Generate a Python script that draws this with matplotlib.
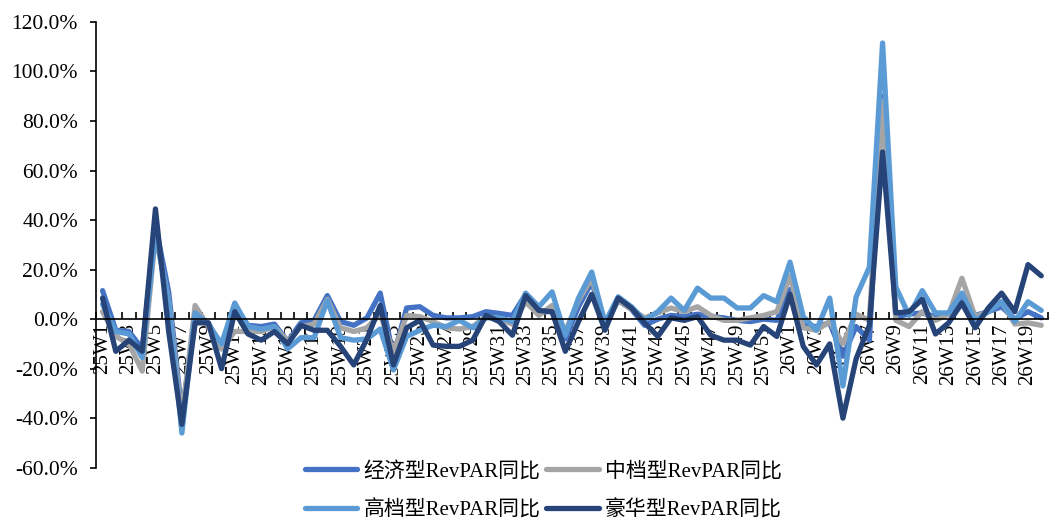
import matplotlib
matplotlib.use('Agg')
import matplotlib.pyplot as plt
from matplotlib.ticker import FixedLocator, NullFormatter

plt.rcParams['font.family'] = ['Liberation Serif', 'Noto Sans CJK SC', 'DejaVu Sans']

weeks = ['25W%d' % i for i in range(1, 53)] + ['26W%d' % i for i in range(1, 21)]

jingji = [11.5, -4.5, -5, -12, 38, 11, -38, -1, -1.5, -12,
          5, -2.5, -3, -2, -9, -1.5, -0.5, 9.5, -1, -2.5,
          0.5, 10.5, -15, 4.5, 5, 1.5, 0.5, 0.5, 1, 3,
          2.3, 1.5, 10, 3, 3, -8, 5, 15, -2, 7.5,
          4, -2.5, 0, 1.5, 1, 2, 1, 0.5, -0.5, -1,
          0, -0.5, 12, -2.5, -3, -1.5, -15, -3, -8.5, 90,
          1, 2, 2.5, 1, 2, 8, 1.5, 3, 5, 0,
          3, 0.5]
zhongdang = [3, -7, -10, -21, 34, 7.5, -40, 5.5, -3, -12,
             -5, -5, -5, -3, -9, -3, -2, 8, -3.5, -5,
             -3.5, 2, -13.5, 1.5, 1, -1, -3.5, -4, -3, 1,
             0, -2, 7, 1.5, 5.5, -5, 7.5, 16.5, -2, 7.5,
             4, 0.5, 2.5, 4.5, 3, 5, 1.5, -0.5, -0.5, 0.5,
             1.5, 3, 17.5, -3.5, -4.5, -1, -10, 2, -0.5, 88,
             -0.5, -3, 3, -0.5, 2, 16.5, 1, 3, 7, -2,
             -1.5, -2.5]
gaodang = [6, -5, -6, -15.5, 35, 7, -46, 2.5, -2, -10,
           6.5, -3, -4, -3, -12, -7.5, -7.5, 7.5, -7.5, -8.5,
           -8, -4, -20.5, -7, -4.5, -2.5, -3, -0.5, -3.5, 0.5,
           0.5, -1, 10.5, 5, 11, -6.5, 8.5, 19, -1.5, 9,
           5, -0.5, 3, 8.5, 3.5, 12.5, 8.5, 8.5, 4.5, 4.5,
           9.5, 7, 23, 1, -4.5, 8.5, -27, 9, 21, 111.5,
           13, 1.5, 11.5, 2.5, 2.5, 10.5, -0.5, 3, 7, -1,
           7, 3.5]
haohua = [8.5, -13, -8.5, -13, 44.5, -5, -42.5, -1.5, -1.5, -20,
          3, -6, -8.5, -5, -10, -2.5, -4.5, -4.5, -11, -18.5,
          -8, 5.5, -18.5, -3.5, -0.5, -10.5, -11, -11, -8.5, 1.5,
          -1, -6.5, 9.5, 3.5, 3, -13, -1, 10, -4.5, 8.5,
          4.5, -1.5, -7, 0.5, -0.5, 1, -6.5, -8.5, -8.5, -10.5,
          -3, -7, 10, -11, -18.5, -10, -40, -16, -2.5, 67.5,
          2.5, 3, 8, -6, -1.5, 6.5, -3.5, 4.5, 10.5, 3,
          22, 17.5]

series = [
    ('经济型RevPAR同比', jingji, '#4472C4'),
    ('中档型RevPAR同比', zhongdang, '#A5A5A5'),
    ('高档型RevPAR同比', gaodang, '#5B9BD5'),
    ('豪华型RevPAR同比', haohua, '#264478'),
]

fig = plt.figure(figsize=(10.51, 5.22), dpi=100)
ax = fig.add_axes([0.0913, 0.104, 0.9057, 0.854])

x = list(range(len(weeks)))
lines = []
for name, vals, color in series:
    ln, = ax.plot(x, vals, color=color, lw=3.8, label=name,
                  solid_joinstyle='round', solid_capstyle='round')
    lines.append(ln)

ax.set_xlim(-0.5, len(weeks) - 0.5)
ax.set_ylim(-60, 120)
ax.set_yticks(range(-60, 121, 20))
ax.set_yticklabels(['%.1f%%' % v for v in range(-60, 121, 20)], fontsize=15.5)

for s in ['top', 'right']:
    ax.spines[s].set_visible(False)
ax.spines['bottom'].set_position(('data', 0))
ax.spines['left'].set_linewidth(1.2)
ax.spines['bottom'].set_linewidth(1.2)
ax.tick_params(axis='y', direction='out', length=4, width=1.2, pad=9)

# ticks between categories, labels at every other category center
ax.xaxis.set_major_locator(FixedLocator([i - 0.5 for i in range(len(weeks) + 1)]))
ax.xaxis.set_major_formatter(NullFormatter())
ax.xaxis.set_minor_locator(FixedLocator(x[::2]))
ax.set_xticklabels(weeks[::2], minor=True, rotation=90, fontsize=15, va='top')
ax.tick_params(axis='x', which='major', direction='in', length=5, width=1.2)
ax.tick_params(axis='x', which='minor', length=0, pad=3)

# legend rows: 经济/中档 then 高档/豪华 (matplotlib fills by column)
order = [0, 2, 1, 3]
fig.legend([lines[i] for i in order], [series[i][0] for i in order],
           loc='center', bbox_to_anchor=(0.517, 0.059), ncol=2, frameon=False,
           fontsize=15, handlelength=2.5, handletextpad=0.3, columnspacing=0.3,
           labelspacing=0.9)

plt.savefig('out.png', dpi=100)
